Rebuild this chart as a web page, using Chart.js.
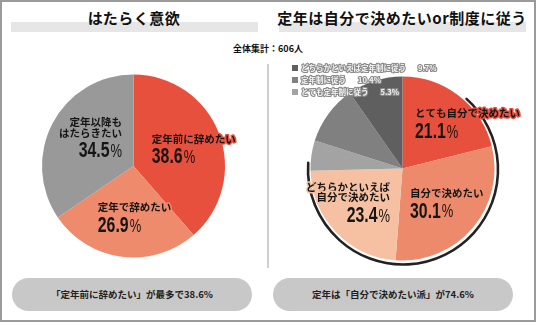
<!DOCTYPE html>
<html>
<head>
<meta charset="utf-8">
<script src="https://cdn.jsdelivr.net/npm/chart.js@4.4.1/dist/chart.umd.min.js"></script>
<style>
  html, body { margin: 0; padding: 0; background: #fff; }
  body { width: 536px; height: 322px; position: relative; overflow: hidden;
         font-family: "Noto Sans CJK JP", "Noto Sans", sans-serif; }
  .abs { position: absolute; }
  #frame { left: 0; top: 0; width: 536px; height: 322px; box-sizing: border-box; border: 2px solid #9b9b9b; }
  .bar { top: 22px; height: 10px; background: #e6e6e6; }
  .title { top: 8px; width: 268px; text-align: center; font-weight: bold; font-size: 15px; line-height: 20px; color: #111; letter-spacing: 0.5px; }
  #total { left: 0; width: 536px; top: 42px; text-align: center; font-size: 9px; font-weight: bold; line-height: 14px; color: #111; }
  #divider { left: 267px; top: 64px; width: 2px; height: 204px; background: #cfcfcf; }
  .pill { top: 278px; width: 240px; height: 33px; border-radius: 17px; background: #c8c8c8;
          text-align: center; line-height: 33px; font-size: 9.5px; font-weight: bold; color: #222; }
</style>
</head>
<body>
<div id="frame" class="abs"></div>
<div class="abs bar" style="left:11px;width:247px"></div>
<div class="abs bar" style="left:279px;width:247px"></div>
<div class="abs title" id="titleL" style="left:0"></div>
<div class="abs title" id="titleR" style="left:268px"></div>
<div class="abs" id="total"></div>
<div class="abs" id="divider"></div>
<canvas id="pieL" class="abs" width="268" height="214" style="left:0;top:56px"></canvas>
<canvas id="pieR" class="abs" width="268" height="220" style="left:268px;top:56px"></canvas>
<div class="abs pill" id="pillL" style="left:12px"></div>
<div class="abs pill" id="pillR" style="left:273px"></div>

<script>
// --- data ---
const titleLeft = 'はたらく意欲';
const titleRight = '定年は自分で決めたいor制度に従う';
const totalCount = 606;

const leftLabels = ['定年前に辞めたい', '定年で辞めたい', '定年以降もはたらきたい'];
const leftLines = [['定年前に辞めたい'], ['定年で辞めたい'], ['定年以降も', 'はたらきたい']];
const leftValues = [38.6, 26.9, 34.5];

const rightLabels = ['とても自分で決めたい', '自分で決めたい', 'どちらかといえば自分で決めたい',
                     'とても定年制に従う', '定年制に従う', 'どちらかといえば定年制に従う'];
const rightLines = [['とても自分で決めたい'], ['自分で決めたい'], ['どちらかといえば', '自分で決めたい']];
const rightValues = [21.1, 30.1, 23.4, 5.3, 10.4, 9.7];
const rightLegendOrder = [5, 4, 3];

const leftColors = ['#e8503e', '#ef8b6d', '#999999'];
const rightColors = ['#e8503e', '#ee8a6c', '#f6c1a2', '#a3a3a3', '#808080', '#5f5f5f'];

// --- static texts ---
document.getElementById('titleL').textContent = titleLeft;
document.getElementById('titleR').textContent = titleRight;
document.getElementById('total').textContent = '全体集計：' + totalCount + '人';
document.getElementById('pillL').textContent = '「' + leftLabels[0] + '」が最多で' + leftValues[0].toFixed(1) + '%';
const selfShare = rightValues[0] + rightValues[1] + rightValues[2];
document.getElementById('pillR').textContent = '定年は「自分で決めたい派」が' + selfShare.toFixed(1) + '%';

const jpFont = '"Noto Sans CJK JP", sans-serif';
const numFont = '"Liberation Sans", Arial, sans-serif';
const numSqueeze = 0.72;

// labels placed relative to the pie centre, in units of the radius
const sliceLabels = {
    id: 'sliceLabels',
    beforeDatasetsDraw(chart, args, opts) {
        if (!opts.shadow) return;
        const arc = chart.getDatasetMeta(0).data[0];
        const c = chart.ctx;
        c.save();
        c.strokeStyle = '#222';
        c.lineCap = 'round';
        c.lineWidth = 2.6;
        c.beginPath();
        c.arc(arc.x + 0.5, arc.y + 1, arc.outerRadius + 3, -48 * Math.PI / 180, 184 * Math.PI / 180);
        c.stroke();
        c.restore();
    },
    afterDatasetsDraw(chart, args, opts) {
        const c = chart.ctx;
        const meta = chart.getDatasetMeta(0);
        const ds = chart.data.datasets[0];
        c.save();
        c.lineJoin = 'round';
        c.textBaseline = 'middle';
        opts.items.forEach(it => {
            const arc = meta.data[it.i];
            const r = arc.outerRadius;
            const x = arc.x + it.x * r;
            let y = arc.y + it.y * r;
            const halo = ds.backgroundColor[it.i];
            c.textAlign = it.align;
            c.font = 'bold 10.5px ' + jpFont;
            opts.lines[it.i].forEach((ln, k) => {
                const ly = y + k * 10.5;
                c.strokeStyle = halo; c.lineWidth = 3;
                c.strokeText(ln, x, ly);
                c.fillStyle = '#151515';
                c.fillText(ln, x, ly);
            });
            const ny = y + (opts.lines[it.i].length - 1) * 10.5 + 18.5;
            const num = ds.data[it.i].toFixed(1);
            c.font = 'bold 22px ' + numFont;
            const wNum = c.measureText(num).width * numSqueeze;
            c.font = '18px ' + numFont;
            const wPct = c.measureText('%').width * numSqueeze + 1;
            const x0 = it.align === 'right' ? x - wNum - wPct : x;
            c.save();
            c.translate(x0, ny);
            c.scale(numSqueeze, 1);
            c.textAlign = 'left';
            c.fillStyle = '#151515';
            c.font = 'bold 22px ' + numFont;
            c.fillText(num, 0, 0);
            c.font = '18px ' + numFont;
            c.fillText('%', (wNum + 1) / numSqueeze, 1);
            c.restore();
        });
        if (opts.legend) {
            const lg = opts.legend;
            c.font = 'bold 7.5px ' + jpFont;
            c.textAlign = 'left';
            lg.order.forEach((idx, k) => {
                const ry = lg.y + k * 12;
                c.fillStyle = ds.backgroundColor[idx];
                c.fillRect(lg.x, ry - 3, 6, 6);
                const t = chart.data.labels[idx];
                const tx = lg.x + 9;
                const w = c.measureText(t).width;
                const v = ds.data[idx].toFixed(1) + '%';
                [[t, tx], [v, tx + w + 12]].forEach(([s, sx]) => {
                    c.strokeStyle = '#8a8a8a'; c.lineWidth = 2.2;
                    c.strokeText(s, sx, ry);
                    c.fillStyle = '#f2f2f2';
                    c.fillText(s, sx, ry);
                });
            });
        }
        c.restore();
    }
};

function makePie(id, labels, values, colors, padding, pluginOpts) {
    return new Chart(document.getElementById(id), {
        type: 'pie',
        data: {
            labels: labels,
            datasets: [{ data: values, backgroundColor: colors, borderWidth: 0 }]
        },
        options: {
            responsive: false,
            maintainAspectRatio: false,
            animation: false,
            events: [],
            layout: { padding: padding },
            plugins: {
                legend: { display: false },
                tooltip: { enabled: false },
                sliceLabels: pluginOpts
            }
        },
        plugins: [sliceLabels]
    });
}

makePie('pieL', leftLabels, leftValues, leftColors,
    { left: 42, right: 43, top: 18.5, bottom: 12.5 },
    {
        lines: leftLines,
        items: [
            { i: 0, x: 0.20, y: -0.30, align: 'left' },
            { i: 1, x: -0.39, y: 0.45, align: 'left' },
            { i: 2, x: -0.125, y: -0.48, align: 'right' }
        ]
    });

makePie('pieR', rightLabels, rightValues, rightColors,
    { left: 42.5, right: 41.5, top: 20.5, bottom: 15.5 },
    {
        shadow: true,
        lines: rightLines,
        items: [
            { i: 0, x: 0.136, y: -0.60, align: 'left' },
            { i: 1, x: 0.082, y: 0.266, align: 'left' },
            { i: 2, x: -0.136, y: 0.20, align: 'right' }
        ],
        legend: { x: 24, y: 12, order: rightLegendOrder }
    });
</script>
</body>
</html>
